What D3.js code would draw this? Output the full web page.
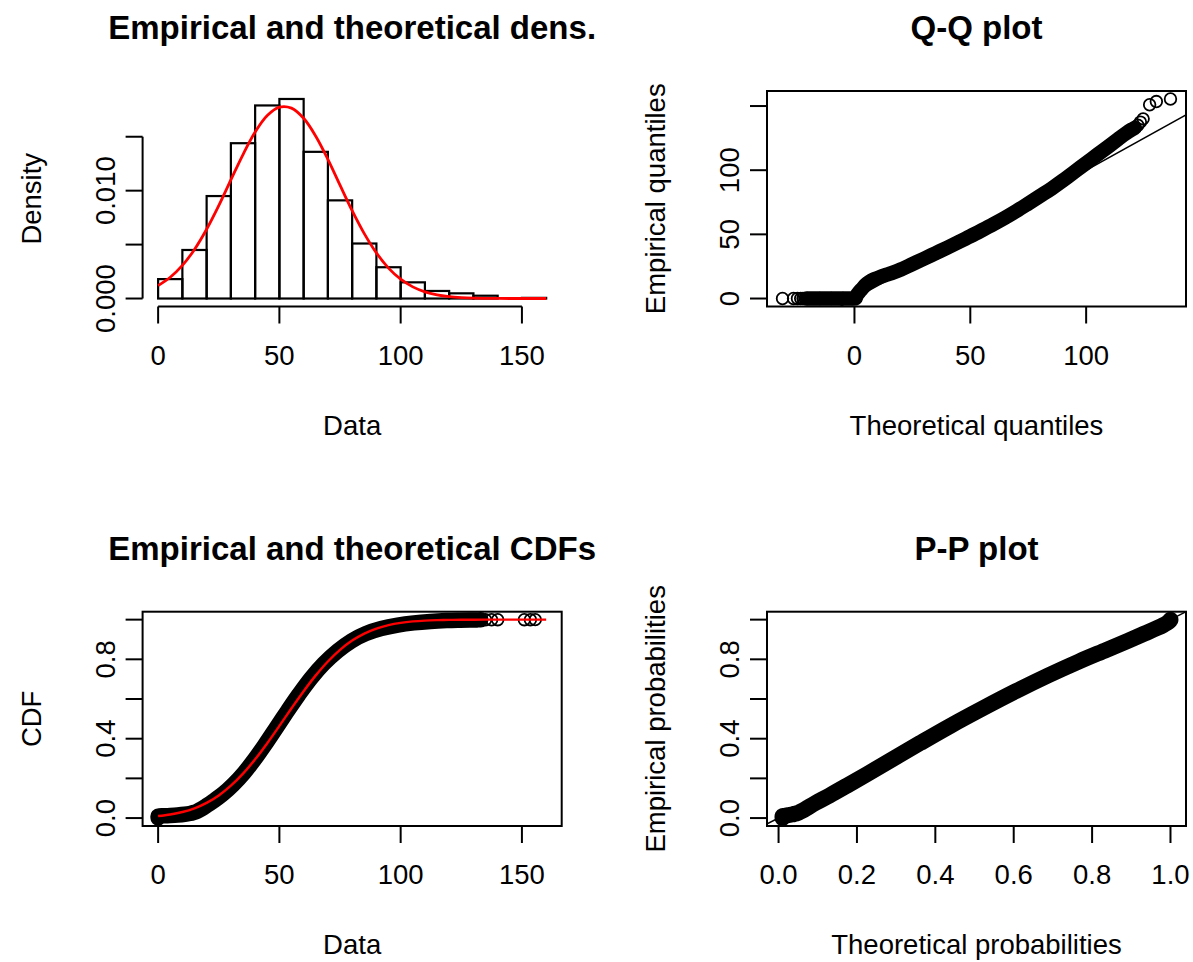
<!DOCTYPE html>
<html><head><meta charset="utf-8">
<script src="https://cdn.jsdelivr.net/npm/d3@7"></script>
<style>
body{margin:0;background:#fff}
svg{display:block}
text{font-family:"Liberation Sans",Arial,Helvetica,sans-serif;fill:#000}
</style>
</head><body>
<svg id="chart" width="1193" height="962"></svg>
<script>
// ---------------- DATA ----------------
// Panel 1: histogram + fitted density
const histBreaks  = [0,10,20,30,40,50,60,70,80,90,100,110,120,130,140,150,160];
const histDensity = [0.0018,0.0045,0.0095,0.0144,0.0179,0.0185,0.0136,0.0091,0.0051,0.0029,0.0015,0.0007,0.00048,0.00026,0,0.00006];
const densX = [0,5,10,15,20,25,30,35,40,45,50,55,60,65,70,75,80,85,90,95,100,105,110,115,120,125,130,135,140,145,150,155,160];
const densY = [0.00120,0.00197,0.00307,0.00455,0.00642,0.00861,0.01100,0.01335,0.01543,0.01696,0.01774,0.01765,0.01671,0.01505,0.01290,0.01051,0.00815,0.00602,0.00423,0.00282,0.00179,0.00108,0.00062,0.00034,0.00018,0.00009,0.00004,0.00002,0.00001,0,0,0,0];
const densXTicks = [0,50,100,150];
const densYTicks = [0,0.005,0.010,0.015];
const densYLabels = ["0.000","","0.010",""];

// Panel 2: Q-Q plot (theoretical, empirical)
const qqLowTheo  = [-31.05,-26.3,-24.6,-23.2,-22.2,-21.3];
const qqLowEmp   = [0,0,0,0,0,0];
const qqBandTheo = [-20.5,-15,-10,-5,-1,0.5,1,2,3.5,5,6.5,8,10,13,16,20,25,30,35,40,45,50,55,60,65,70,75,80,85,90,95,100,105,110,114,117,119.5,121];
const qqBandEmp  = [0,0,0,0,0,0.3,2.5,5,8,11,13,14.6,16,18,19.8,22.6,26.8,31,35.3,39.6,44,48.5,53.2,58,63,68.3,74,79.8,85.6,92,98.8,105.5,112.3,119,124.5,128.5,131.5,133];
const qqHighTheo = [122.3,123.4,124.6,127.4,130.3,136.4];
const qqHighEmp  = [135,137.5,140,151,153.5,155.5];
const qqXTicks = [0,50,100];
const qqYTicks = [0,50,100,150];
const qqYLabels = ["0","50","100",""];

// Panel 3: empirical and theoretical CDFs
const cdfZeroX = [0,0,0,0];
const cdfZeroF = [0.0002,0.0035,0.007,0.0101];
const cdfBandX = [0.3,2.5,5,8,11,13,14.6,16,18,19.8,22.6,26.8,31,35.3,39.6,44,48.5,53.2,58,63,68.3,74,79.8,85.6,92,98.8,105.5,112.3,119,124.5,128.5,131.5,133];
const cdfBandF = [0.0106,0.0114,0.0128,0.0152,0.019,0.023,0.028,0.034,0.047,0.061,0.084,0.122,0.169,0.226,0.293,0.369,0.451,0.537,0.622,0.704,0.778,0.842,0.8935,0.9296,0.9551,0.9726,0.9839,0.991,0.9952,0.9971,0.9981,0.9987,0.999];
const cdfHighX = [135,137.5,140,151,153.5,155.5];
const cdfHighF = [0.9992,0.9994,0.9996,0.9997,0.9998,1.0];
const cdfTheoX = [0,5,10,15,20,25,30,35,40,45,50,55,60,65,70,75,80,85,90,95,100,105,110,115,120,125,130,135,140,145,150,155,160];
const cdfTheoF = [0.0101,0.0180,0.0304,0.0493,0.0766,0.1141,0.1630,0.2239,0.2961,0.3773,0.4644,0.5533,0.6395,0.7191,0.7892,0.8478,0.8944,0.9296,0.9551,0.9726,0.9839,0.9910,0.9952,0.9975,0.9988,0.9994,0.9998,0.9999,1,1,1,1,1];
const cdfXTicks = [0,50,100,150];
const probTicks = [0,0.2,0.4,0.6,0.8,1.0];
const probYLabels = ["0.0","","0.4","","0.8",""];
const probXLabels = ["0.0","0.2","0.4","0.6","0.8","1.0"];

// Panel 4: P-P plot (theoretical, empirical)
const ppZeroTheo = [0.0101,0.0101,0.0101,0.0101];
const ppZeroEmp  = [0.0002,0.0035,0.007,0.0101];
const ppBandTheo = [0.0105,0.0136,0.0180,0.0248,0.0336,0.0408,0.0475,0.0540,0.0645,0.0753,0.0947,0.1303,0.1742,0.2281,0.2899,0.3605,0.4379,0.5214,0.6056,0.6883,0.7666,0.8370,0.8927,0.9332,0.9629,0.9817,0.9915,0.99645,0.99861,0.99941,0.99965,0.99981,0.99985];
const ppBandEmp  = [0.0106,0.0114,0.0128,0.0152,0.018,0.0211,0.0248,0.0304,0.0408,0.0539,0.0766,0.1141,0.163,0.2239,0.2961,0.3773,0.4644,0.5533,0.6395,0.7191,0.7892,0.8478,0.8944,0.9296,0.9551,0.9726,0.9839,0.991,0.9952,0.9971,0.9981,0.9987,0.999];
const ppHighTheo = [0.99990,0.99993,0.99995,0.99999,0.99999,0.99999];
const ppHighEmp  = [0.9992,0.9994,0.9996,0.9997,0.9998,1.0];

// ---------------- LAYOUT ----------------
const svg = d3.select("#chart");
const FS = 27.5, TFS = 33;
const L = {x0:142.6, x1:561.7}, R = {x0:767, x1:1186};
const T = {y0:91, y1:306.5}, B = {y0:611.7, y1:826};
const ext = (a,b) => { const r=b-a; return [a-0.04*r, b+0.04*r]; };

function title(reg, vreg, txt){
  svg.append("text").attr("x",(reg.x0+reg.x1)/2).attr("y",vreg.y0-52)
    .attr("text-anchor","middle").attr("font-size",TFS).attr("font-weight","bold").text(txt);
}
function xAxis(reg, vreg, x, ticks, labels, name, drawLine){
  const g = svg.append("g");
  if(drawLine) g.append("line").attr("x1",x(ticks[0])).attr("x2",x(ticks[ticks.length-1]))
      .attr("y1",vreg.y1).attr("y2",vreg.y1).attr("stroke","#000").attr("stroke-width",2);
  ticks.forEach((t,i)=>{
    g.append("line").attr("x1",x(t)).attr("x2",x(t)).attr("y1",vreg.y1).attr("y2",vreg.y1+17)
      .attr("stroke","#000").attr("stroke-width",2);
    if(labels[i]) g.append("text").attr("x",x(t)).attr("y",vreg.y1+58).attr("text-anchor","middle")
      .attr("font-size",FS).text(labels[i]);
  });
  g.append("text").attr("x",(reg.x0+reg.x1)/2).attr("y",vreg.y1+128).attr("text-anchor","middle")
    .attr("font-size",FS).text(name);
}
function yAxis(reg, vreg, y, ticks, labels, name, drawLine){
  const g = svg.append("g");
  if(drawLine) g.append("line").attr("x1",reg.x0).attr("x2",reg.x0)
      .attr("y1",y(ticks[0])).attr("y2",y(ticks[ticks.length-1])).attr("stroke","#000").attr("stroke-width",2);
  ticks.forEach((t,i)=>{
    g.append("line").attr("x1",reg.x0-17).attr("x2",reg.x0).attr("y1",y(t)).attr("y2",y(t))
      .attr("stroke","#000").attr("stroke-width",2);
    if(labels[i]) g.append("text").attr("transform",`translate(${reg.x0-28},${y(t)}) rotate(-90)`)
      .attr("text-anchor","middle").attr("font-size",FS).text(labels[i]);
  });
  g.append("text").attr("transform",`translate(${reg.x0-102},${(vreg.y0+vreg.y1)/2}) rotate(-90)`)
    .attr("text-anchor","middle").attr("font-size",FS).text(name);
}
function box(reg, vreg){
  svg.append("rect").attr("x",reg.x0).attr("y",vreg.y0).attr("width",reg.x1-reg.x0).attr("height",vreg.y1-vreg.y0)
    .attr("fill","none").attr("stroke","#000").attr("stroke-width",2);
}
function clip(id, reg, vreg){
  svg.append("clipPath").attr("id",id).append("rect").attr("x",reg.x0).attr("y",vreg.y0)
    .attr("width",reg.x1-reg.x0).attr("height",vreg.y1-vreg.y0);
  return svg.append("g").attr("clip-path",`url(#${id})`);
}
const CR = 5.8, CSW = 1.8;
function circles(g, xs, ys, x, y){
  g.selectAll(null).data(xs.map((v,i)=>[v,ys[i]])).enter().append("circle")
    .attr("cx",d=>x(d[0])).attr("cy",d=>y(d[1])).attr("r",CR)
    .attr("fill","none").attr("stroke","#000").attr("stroke-width",CSW);
}
function band(g, xs, ys, x, y, w){
  const pts = xs.map((v,i)=>[v,ys[i]]);
  g.append("path").attr("d", d3.line().x(d=>x(d[0])).y(d=>y(d[1])).curve(d3.curveCatmullRom.alpha(0.5))(pts))
    .attr("fill","none").attr("stroke","#000").attr("stroke-width",w)
    .attr("stroke-linecap","round").attr("stroke-linejoin","round");
  circles(g, xs, ys, x, y);
}

// ---------------- PANEL 1: density ----------------
{
  const x = d3.scaleLinear().domain(ext(0,160)).range([L.x0,L.x1]);
  const M = d3.max(histDensity);
  const y = d3.scaleLinear().domain(ext(0,M)).range([T.y1,T.y0]);
  title(L,T,"Empirical and theoretical dens.");
  const bars = histDensity.map((d,i)=>({a:histBreaks[i],b:histBreaks[i+1],d}));
  svg.append("g").selectAll("rect").data(bars).enter().append("rect")
    .attr("x",d=>x(d.a)).attr("width",d=>x(d.b)-x(d.a))
    .attr("y",d=>y(d.d)).attr("height",d=>Math.max(0,y(0)-y(d.d)))
    .attr("fill","none").attr("stroke","#000").attr("stroke-width",2.2);
  svg.append("path").attr("d",d3.line().x((d,i)=>x(densX[i])).y(d=>y(d)).curve(d3.curveCatmullRom)(densY))
    .attr("fill","none").attr("stroke","#ff0000").attr("stroke-width",2.8);
  xAxis(L,T,x,densXTicks,densXTicks.map(String),"Data",true);
  yAxis(L,T,y,densYTicks,densYLabels,"Density",true);
}

// ---------------- PANEL 2: Q-Q ----------------
{
  const allT = qqLowTheo.concat(qqBandTheo,qqHighTheo), allE = qqLowEmp.concat(qqBandEmp,qqHighEmp);
  const x = d3.scaleLinear().domain(ext(d3.min(allT),d3.max(allT))).range([R.x0,R.x1]);
  const y = d3.scaleLinear().domain(ext(d3.min(allE),d3.max(allE))).range([T.y1,T.y0]);
  title(R,T,"Q-Q plot");
  const g = clip("c2",R,T);
  const dx = x.domain();
  g.append("line").attr("x1",x(dx[0])).attr("y1",y(dx[0])).attr("x2",x(dx[1])).attr("y2",y(dx[1]))
    .attr("stroke","#000").attr("stroke-width",1.5);
  circles(g,qqLowTheo,qqLowEmp,x,y);
  band(g,qqBandTheo,qqBandEmp,x,y,14.5);
  circles(g,qqHighTheo,qqHighEmp,x,y);
  box(R,T);
  xAxis(R,T,x,qqXTicks,qqXTicks.map(String),"Theoretical quantiles",false);
  yAxis(R,T,y,qqYTicks,qqYLabels,"Empirical quantiles",false);
}

// ---------------- PANEL 3: CDF ----------------
{
  const x = d3.scaleLinear().domain(ext(0,160)).range([L.x0,L.x1]);
  const y = d3.scaleLinear().domain(ext(0,1)).range([B.y1,B.y0]);
  title(L,B,"Empirical and theoretical CDFs");
  const g = clip("c3",L,B);
  band(g,cdfZeroX.concat(cdfBandX),cdfZeroF.concat(cdfBandF),x,y,15.5);
  circles(g,cdfHighX,cdfHighF,x,y);
  g.append("path").attr("d",d3.line().x((d,i)=>x(cdfTheoX[i])).y(d=>y(d)).curve(d3.curveCatmullRom)(cdfTheoF))
    .attr("fill","none").attr("stroke","#ff0000").attr("stroke-width",2.4);
  box(L,B);
  xAxis(L,B,x,cdfXTicks,cdfXTicks.map(String),"Data",false);
  yAxis(L,B,y,probTicks,probYLabels,"CDF",false);
}

// ---------------- PANEL 4: P-P ----------------
{
  const allT = ppZeroTheo.concat(ppBandTheo,ppHighTheo);
  const x = d3.scaleLinear().domain(ext(d3.min(allT),d3.max(allT))).range([R.x0,R.x1]);
  const y = d3.scaleLinear().domain(ext(0,1)).range([B.y1,B.y0]);
  title(R,B,"P-P plot");
  const g = clip("c4",R,B);
  g.append("line").attr("x1",x(-0.1)).attr("y1",y(-0.1)).attr("x2",x(1.1)).attr("y2",y(1.1))
    .attr("stroke","#000").attr("stroke-width",1.5);
  band(g,ppZeroTheo.concat(ppBandTheo,ppHighTheo),ppZeroEmp.concat(ppBandEmp,ppHighEmp),x,y,16);
  box(R,B);
  xAxis(R,B,x,probTicks,probXLabels,"Theoretical probabilities",false);
  yAxis(R,B,y,probTicks,probYLabels,"Empirical probabilities",false);
}
</script>
</body></html>
